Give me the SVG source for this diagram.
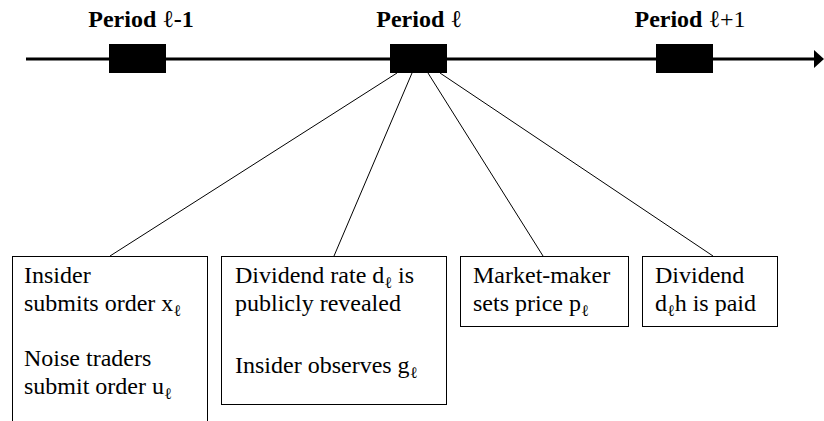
<svg xmlns="http://www.w3.org/2000/svg" width="824" height="421" viewBox="0 0 824 421">
<defs>
<style>
.hdr{font-size:24px;font-weight:bold;text-anchor:middle}
.ell{font-weight:normal}
.t{font-size:24px}
.sub{font-size:16px}
.box{fill:#fff;stroke:#000;stroke-width:1}
.conn{stroke:#000;stroke-width:1;fill:none}
.sq{fill:#000}
</style>
</defs>
<rect width="824" height="421" fill="#fff"/>
<g id="timeline">
<line x1="26" y1="59" x2="816" y2="59" stroke="#000" stroke-width="3"/>
<polygon points="814,50 824,59 814,68" fill="#000"/>
</g>
<g id="period-prev">
<rect class="sq" x="109" y="44" width="57" height="29"/>
<text class="hdr" font-family="Liberation Serif" x="141" y="27">Period <tspan class="ell">ℓ</tspan>-1</text>
</g>
<g id="period-cur">
<rect class="sq" x="390" y="44" width="57" height="29"/>
<text class="hdr" font-family="Liberation Serif" x="419" y="27">Period <tspan class="ell">ℓ</tspan></text>
</g>
<g id="period-next">
<rect class="sq" x="656" y="44" width="57" height="29"/>
<text class="hdr" font-family="Liberation Serif" x="690" y="27">Period <tspan class="ell">ℓ+1</tspan></text>
</g>
<g id="connectors">
<line class="conn" x1="397" y1="73" x2="110" y2="256"/>
<line class="conn" x1="412" y1="73" x2="334" y2="256"/>
<line class="conn" x1="428" y1="73" x2="543" y2="256"/>
<line class="conn" x1="440" y1="73" x2="713" y2="256"/>
</g>
<g id="box-orders">
<rect class="box" x="12.5" y="256.5" width="195" height="180"/>
<text class="t" font-family="Liberation Serif" x="24" y="283">Insider</text>
<text class="t" font-family="Liberation Serif" x="24" y="311">submits order x<tspan class="sub" dy="5">ℓ</tspan></text>
<text class="t" font-family="Liberation Serif" x="24" y="366">Noise traders</text>
<text class="t" font-family="Liberation Serif" x="24" y="394">submit order u<tspan class="sub" dy="5">ℓ</tspan></text>
</g>
<g id="box-dividend-rate">
<rect class="box" x="221.5" y="256.5" width="225" height="148"/>
<text class="t" font-family="Liberation Serif" x="235" y="283">Dividend rate d<tspan class="sub" dy="5">ℓ</tspan><tspan dy="-5"> is</tspan></text>
<text class="t" font-family="Liberation Serif" x="235" y="311">publicly revealed</text>
<text class="t" font-family="Liberation Serif" x="235" y="373">Insider observes g<tspan class="sub" dy="5">ℓ</tspan></text>
</g>
<g id="box-price">
<rect class="box" x="460.5" y="256.5" width="168" height="70"/>
<text class="t" font-family="Liberation Serif" x="473" y="283">Market-maker</text>
<text class="t" font-family="Liberation Serif" x="473" y="311">sets price p<tspan class="sub" dy="5">ℓ</tspan></text>
</g>
<g id="box-paid">
<rect class="box" x="642.5" y="256.5" width="135" height="70"/>
<text class="t" font-family="Liberation Serif" x="655" y="283">Dividend</text>
<text class="t" font-family="Liberation Serif" x="655" y="311">d<tspan class="sub" dy="5">ℓ</tspan><tspan dy="-5">h is paid</tspan></text>
</g>
</svg>
